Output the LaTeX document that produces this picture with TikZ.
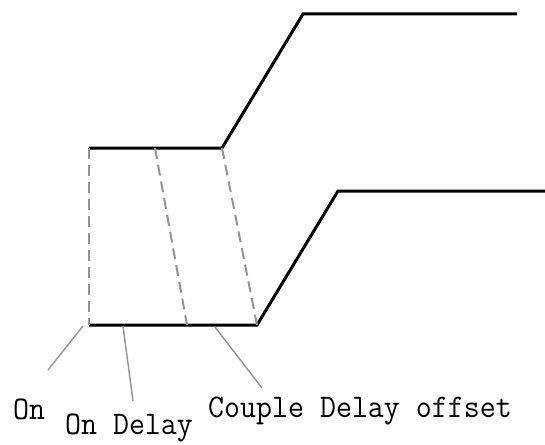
\documentclass[tikz,border=0pt]{standalone}
\usetikzlibrary{positioning}

\begin{document}
\begin{tikzpicture}[
    x=1pt, y=-1pt,
    trace/.style={line width=3pt, line join=miter},
    guide/.style={gray!85, line width=2pt, dash pattern=on 11pt off 6pt},
    lead/.style={gray!85, line width=1.4pt},
    lbl/.style={font=\fontsize{33}{36}\selectfont\ttfamily, xscale=0.94, inner sep=0pt}
]
\useasboundingbox (0,0) rectangle (545,444);

% upper trace
\coordinate (uA) at (89,148);
\coordinate (uB) at (155,148);
\coordinate (uC) at (222,148);
\coordinate (uD) at (303,14);
\coordinate (uE) at (517,14);

% lower trace
\coordinate (lA) at (89,325);
\coordinate (lB) at (187,325);
\coordinate (lC) at (257,325);
\coordinate (lD) at (338,191);
\coordinate (lE) at (546,191);

\draw[trace] (uA) -- (uC) -- (uD) -- (uE);
\draw[trace] (lA) -- (lC) -- (lD) -- (lE);

\draw[guide] (uA) -- (lA);
\draw[guide] (uB) -- (lB);
\draw[guide] (uC) -- (lC);

% labels
\node[lbl] (on) at (29,409) {On};
\node[lbl] (ondelay) at (129,428) {On Delay};
\node[lbl] (couple) at (360,411) {Couple Delay offset};

\coordinate (pOn) at (83,326);
\coordinate (pOnD) at (123,326);
\coordinate (pCpl) at (215,327);
\draw[lead] (pOn) -- (48,370);
\draw[lead] (pOnD) -- (133,401);
\draw[lead] (pCpl) -- (262,388);

\end{tikzpicture}
\end{document}
